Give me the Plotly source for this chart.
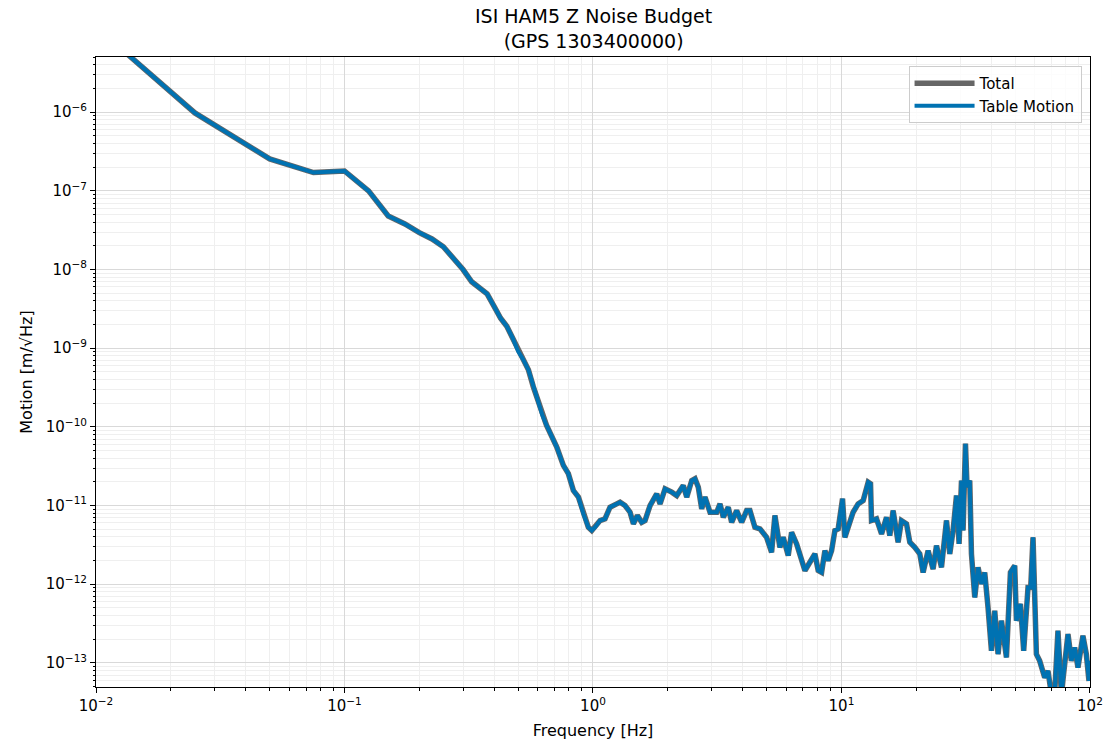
import plotly.graph_objects as go

# Frequency axis [Hz]
freq_hz = [
    0.0125, 0.025, 0.05, 0.075, 0.1, 0.125, 0.15, 0.175, 0.2, 0.225, 0.25, 0.275,
    0.3, 0.325, 0.35, 0.375, 0.4, 0.425, 0.45, 0.475, 0.5, 0.525, 0.55, 0.575,
    0.6, 0.625, 0.65,
    0.715, 0.760, 0.796, 0.834, 0.874, 0.915, 0.958, 0.989, 1.020, 1.068, 1.118,
    1.171, 1.246, 1.285, 1.346, 1.41, 1.454, 1.509, 1.571, 1.62, 1.697, 1.805,
    1.862, 1.95, 2.075, 2.173, 2.309, 2.384, 2.497, 2.574, 2.654, 2.739, 2.824,
    2.958, 3.148, 3.245, 3.346, 3.503, 3.615, 3.786, 3.965, 4.153, 4.282, 4.485,
    4.697, 4.997, 5.234, 5.397, 5.652, 5.828, 6.105, 6.30, 6.60, 6.914, 7.129,
    7.464, 7.818, 8.06, 8.318, 8.577, 8.842, 9.126, 9.408, 9.70, 10.10, 10.32,
    11.14, 11.67, 12.23, 12.81, 13.09, 13.21, 13.84, 14.5, 15.18, 15.65, 16.14,
    16.9, 17.44, 18.27, 18.84, 19.73, 20.66, 21.31, 22.32, 23.37, 24.12, 25.27,
    26.46, 27.29, 28.13, 29.03, 29.74, 30.41, 30.86, 31.55, 32.02, 32.83, 33.35,
    34.39, 35.45, 36.58, 37.72, 38.89, 40.14, 41.39, 42.67, 44.03, 46.12, 47.86,
    49.80, 50.59, 52.50, 54.12, 56.33, 57.76, 59.0, 60.88, 62.77, 65.74, 67.77,
    69.95, 72.1, 74.34, 76.74, 81.58, 84.2, 86.8, 89.5, 93.7, 96.7, 99.1, 100.0,
]

# Table motion ASD [m/sqrt(Hz)]
table_motion = [
    6.6e-6, 9.8e-7, 2.55e-7, 1.71e-7, 1.79e-7, 1.0e-7, 4.8e-8, 3.8e-8, 2.95e-8,
    2.45e-8, 1.95e-8, 1.4e-8, 1.0e-8, 7.0e-9, 5.8e-9, 4.9e-9, 3.4e-9, 2.4e-9,
    1.9e-9, 1.35e-9, 9.1e-10, 7.1e-10, 5.3e-10, 3.25e-10, 2.1e-10, 1.42e-10, 1.05e-10,
    5.53e-11, 3.24e-11, 2.54e-11, 1.55e-11, 1.28e-11, 7.84e-12, 5.29e-12, 4.81e-12,
    5.29e-12, 6.44e-12, 6.77e-12, 9.51e-12, 1.05e-11, 1.10e-11, 1.0e-11, 8.22e-12,
    5.85e-12, 7.46e-12, 6.12e-12, 6.44e-12, 1.0e-11, 1.41e-11, 1.05e-11, 1.63e-11,
    1.48e-11, 1.34e-11, 1.80e-11, 1.28e-11, 2.08e-11, 2.19e-11, 1.71e-11, 9.08e-12,
    1.28e-11, 8.22e-12, 8.22e-12, 1.05e-11, 7.1e-12, 9.51e-12, 6.12e-12, 8.63e-12,
    6.12e-12, 8.63e-12, 8.63e-12, 5.29e-12, 5.05e-12, 3.94e-12, 2.54e-12, 7.46e-12,
    2.94e-12, 3.94e-12, 2.31e-12, 4.57e-12, 3.25e-12, 1.90e-12, 1.49e-12, 1.90e-12,
    2.43e-12, 1.49e-12, 1.41e-12, 2.67e-12, 1.99e-12, 2.67e-12, 4.81e-12, 5.05e-12,
    1.22e-11, 3.94e-12, 8.22e-12, 1.05e-11, 1.16e-11, 1.98e-11, 1.89e-11, 6.44e-12,
    6.77e-12, 4.36e-12, 7.1e-12, 4.15e-12, 8.63e-12, 3.41e-12, 6.44e-12, 5.85e-12,
    3.41e-12, 2.94e-12, 2.43e-12, 1.41e-12, 2.67e-12, 1.56e-12, 3.09e-12, 1.64e-12,
    6.44e-12, 2.43e-12, 4.81e-12, 1.34e-11, 3.25e-12, 2.08e-11, 4.81e-12, 6.11e-11,
    1.71e-11, 2.08e-11, 2.43e-12, 6.79e-13, 1.64e-12, 1.01e-12, 1.41e-12, 5.06e-13,
    1.42e-13, 4.59e-13, 1.29e-13, 3.43e-13, 1.17e-13, 1.41e-12, 1.72e-12, 3.43e-13,
    5.6e-13, 1.42e-13, 9.1e-13, 9.1e-13, 3.94e-12, 1.29e-13, 1.06e-13, 6.5e-14,
    7.9e-14, 4.0e-14, 4.0e-14, 2.56e-13, 4.0e-14, 2.32e-13, 1.06e-13, 1.57e-13,
    8.7e-14, 2.21e-13, 1.29e-13, 5.9e-14, 1.06e-13,
]

# Total = quadrature sum of contributions (only one contribution here)
total_motion = list(table_motion)

# Tick labels
x_tick_vals = [1e-2, 1e-1, 1e0, 1e1, 1e2]
x_tick_text = ["10<sup>−2</sup>", "10<sup>−1</sup>", "10<sup>0</sup>", "10<sup>1</sup>", "10<sup>2</sup>"]
y_tick_vals = [1e-13, 1e-12, 1e-11, 1e-10, 1e-9, 1e-8, 1e-7, 1e-6]
y_tick_text = ["10<sup>−13</sup>", "10<sup>−12</sup>", "10<sup>−11</sup>", "10<sup>−10</sup>",
               "10<sup>−9</sup>", "10<sup>−8</sup>", "10<sup>−7</sup>", "10<sup>−6</sup>"]

# minor (log) ticks 2..9 within each decade
x_minor_vals = [m * 10.0 ** k for k in range(-2, 2) for m in range(2, 10)]
y_minor_vals = [m * 10.0 ** k for k in range(-14, -5) for m in range(2, 10)]

FONT = "DejaVu Sans"

fig = go.Figure()
fig.add_trace(go.Scatter(
    x=freq_hz, y=total_motion, mode="lines", name="Total",
    line=dict(color="#666666", width=5.5),
))
fig.add_trace(go.Scatter(
    x=freq_hz, y=table_motion, mode="lines", name="Table Motion",
    line=dict(color="#0072B2", width=4),
))

axis_common = dict(
    type="log",
    tickmode="array",
    automargin=False,
    showline=True, linecolor="black", linewidth=1, mirror=True,
    ticks="outside", ticklen=5, tickwidth=1, tickcolor="black",
    showgrid=True, gridcolor="#d9d9d9", gridwidth=1,
    zeroline=False,
    tickfont=dict(family=FONT, size=15, color="black"),
    title_font=dict(family=FONT, size=16, color="black"),
)
minor_common = dict(tickmode="array", ticks="outside", ticklen=2.5, tickwidth=0.8,
                    tickcolor="black", showgrid=True, gridcolor="#efefef", gridwidth=1)

fig.update_xaxes(axis_common, range=[-2, 2.0002], tickvals=x_tick_vals, ticktext=x_tick_text,
                 minor=dict(minor_common, tickvals=x_minor_vals),
                 title_text="Frequency [Hz]", title_standoff=10)
fig.update_yaxes(axis_common, range=[-13.307, -5.298], tickvals=y_tick_vals, ticktext=y_tick_text,
                 minor=dict(minor_common, tickvals=y_minor_vals),
                 title_text="Motion [m/√Hz]", title_standoff=9)

fig.update_layout(
    width=1105, height=745,
    margin=dict(l=95.5, r=14.5, t=57, b=58, autoexpand=False),
    paper_bgcolor="white", plot_bgcolor="white",
    font=dict(family=FONT, size=14, color="black"),
    annotations=[dict(
        text="ISI HAM5 Z Noise Budget<br>(GPS 1303400000)",
        font=dict(family=FONT, size=19, color="black"),
        x=0.5, xref="paper", xanchor="center",
        y=1, yref="paper", yanchor="bottom", yshift=3,
        showarrow=False, align="center",
    )],
    legend=dict(
        x=0.9915, y=0.9857, xanchor="right", yanchor="top",
        bgcolor="rgba(255,255,255,0.8)", bordercolor="#cccccc", borderwidth=1,
        font=dict(family=FONT, size=15, color="black"),
        itemwidth=60, tracegroupgap=0,
    ),
    showlegend=True,
)

fig.write_html("out.html")
